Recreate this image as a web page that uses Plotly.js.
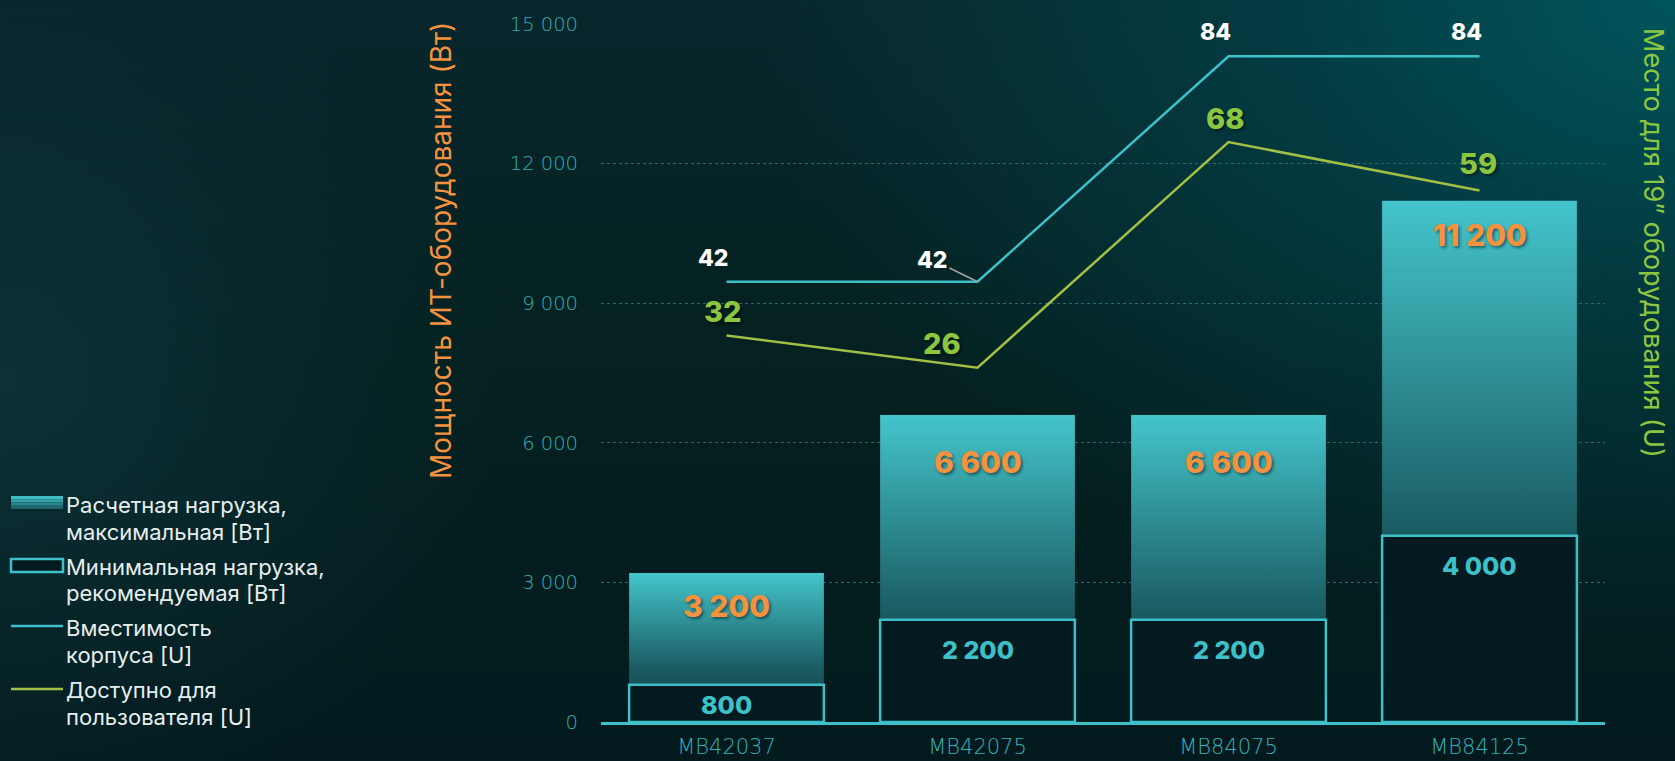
<!DOCTYPE html>
<html><head><meta charset="utf-8">
<script src="https://cdn.plot.ly/plotly-3.0.1.min.js"></script>
<style>
html,body{margin:0;padding:0;width:1675px;height:761px;overflow:hidden;}
body{background:
  radial-gradient(ellipse 55% 85% at 100% 0%, rgba(0,84,91,1) 0%, rgba(0,72,80,0.6) 45%, rgba(3,28,33,0) 100%),
  radial-gradient(ellipse 30% 60% at 0% 50%, rgba(13,50,56,0.9) 0%, rgba(13,50,56,0) 100%),
  linear-gradient(180deg, #08272c 0%, #04201f 50%, #021a1e 100%);}
#chart{width:1675px;height:761px;}
</style></head><body><div id="chart"></div>
<script>
// ---- data ----
const categories = ['MB42037', 'MB42075', 'MB84075', 'MB84125'];
const maxLoad = [3200, 6600, 6600, 11200];      // Расчетная нагрузка, максимальная [Вт]
const minLoad = [800, 2200, 2200, 4000];        // Минимальная нагрузка, рекомендуемая [Вт]
const capacityU = [42, 42, 84, 84];             // Вместимость корпуса [U]
const availableU = [32, 26, 68, 59];            // Доступно для пользователя [U]
const yTickVals = [0, 3000, 6000, 9000, 12000, 15000];
const seriesNames = [
  ['Расчетная нагрузка,', 'максимальная [Вт]'],
  ['Минимальная нагрузка,', 'рекомендуемая [Вт]'],
  ['Вместимость', 'корпуса [U]'],
  ['Доступно для', 'пользователя [U]']
];
const leftTitle = 'Мощность ИТ-оборудования (Вт)';
const rightTitle = 'Место для 19” оборудования (U)';

// ---- styles ----
const FONT = 'Inter, "Noto Sans", "Open Sans", sans-serif';
const TICKFONT = '"DejaVu Sans", Inter, sans-serif';
const CYAN = '#3dc0c7';
const GREEN_LINE = '#a3be45';
const GREEN_TXT = '#8cc640';
const ORANGE = '#f5923f';
const TICK = '#33b0b7';
const BOX_FILL = '#031b20';
const BAR_W = 0.776;
const M = {l: 601, r: 70, t: 24, b: 39};
const PW = 1675 - M.l - M.r, PH = 761 - M.t - M.b;
const px2x = px => (px - M.l) / PW;
const py2y = py => (761 - M.b - py) / PH;
const xIdx = categories.map((c, i) => i);
const fmt = v => String(v).replace(/\B(?=(\d{3})+(?!\d))/g, ' ');

const traces = [];
// gradient bars (max load), one per category so each has its own gradient
maxLoad.forEach((v, i) => {
  const a = xIdx[i] - BAR_W / 2, b = xIdx[i] + BAR_W / 2;
  traces.push({
    type: 'scatter', mode: 'lines',
    x: [a, b, b, a, a], y: [0, 0, v, v, 0],
    fill: 'toself',
    fillgradient: {type: 'vertical', colorscale: [[0, '#0e3a40'], [0.35, '#1a5a61'], [1, '#44c5cb']]},
    line: {width: 0, color: CYAN},
    name: seriesNames[0].join(' '), showlegend: false, hoverinfo: 'skip'
  });
});
// min load outlined boxes (drawn as closed shapes so they sit above the gradient bars)
const mx = [], my = [];
minLoad.forEach((v, i) => {
  const a = xIdx[i] - BAR_W / 2, b = xIdx[i] + BAR_W / 2;
  mx.push(a, b, b, a, a, null);
  my.push(0, 0, v, v, 0, null);
});
traces.push({
  type: 'scatter', mode: 'lines', x: mx, y: my, fill: 'toself', fillcolor: BOX_FILL,
  line: {color: CYAN, width: 2.5}, connectgaps: false,
  name: seriesNames[1].join(' '), showlegend: false, hoverinfo: 'skip'
});
traces.push({
  type: 'scatter', mode: 'lines', x: xIdx, y: capacityU, yaxis: 'y2',
  line: {color: CYAN, width: 2.5}, name: seriesNames[2].join(' '), showlegend: false
});
traces.push({
  type: 'scatter', mode: 'lines', x: xIdx, y: availableU, yaxis: 'y2',
  line: {color: GREEN_LINE, width: 2.5}, name: seriesNames[3].join(' '), showlegend: false
});

// ---- annotations ----
const ann = [];
const shadow = '2px 2px 3px rgba(0,0,0,0.45)';
const maxShift = [-33, -47, -47, -34];
maxLoad.forEach((v, i) => ann.push({
  x: xIdx[i], y: v, xref: 'x', yref: 'y', text: fmt(v), showarrow: false, yshift: maxShift[i],
  font: {family: FONT, size: 30, weight: 800, color: ORANGE, shadow: shadow}
}));
const minShift = [-20, -30, -30, -30];
minLoad.forEach((v, i) => ann.push({
  x: xIdx[i], y: v, xref: 'x', yref: 'y', text: fmt(v), showarrow: false, yshift: minShift[i],
  font: {family: FONT, size: 25, weight: 800, color: CYAN}
}));
const capOff = [[-13, 24], null, [-13, 24], [-13, 24]];
capacityU.forEach((v, i) => {
  const base = {x: xIdx[i], y: v, xref: 'x', yref: 'y2', text: String(v),
    font: {family: FONT, size: 23, weight: 800, color: '#ffffff'}};
  if (capOff[i]) {
    ann.push(Object.assign(base, {showarrow: false, xshift: capOff[i][0], yshift: capOff[i][1]}));
  } else {
    ann.push(Object.assign(base, {showarrow: true, arrowhead: 0, arrowwidth: 1.6, arrowcolor: '#a0a0a0',
      ax: -45, ay: -22, standoff: 0, startstandoff: 0}));
  }
});
const avOff = [[-4, 24], [-36, 24], [-4, 24], [-2, 27]];
availableU.forEach((v, i) => ann.push({
  x: xIdx[i], y: v, xref: 'x', yref: 'y2', text: String(v), showarrow: false,
  xshift: avOff[i][0], yshift: avOff[i][1],
  font: {family: FONT, size: 29, weight: 800, color: GREEN_TXT, shadow: shadow}
}));
// axis titles
ann.push({xref: 'paper', yref: 'paper', x: px2x(441), y: py2y(251), xanchor: 'center', yanchor: 'middle',
  text: leftTitle, textangle: -90, showarrow: false, font: {family: FONT, size: 28, color: ORANGE}});
ann.push({xref: 'paper', yref: 'paper', x: px2x(1654), y: py2y(243), xanchor: 'center', yanchor: 'middle',
  text: rightTitle, textangle: 90, showarrow: false, borderpad: 0,
  font: {family: FONT, size: 27, color: GREEN_TXT}});

// ---- custom legend (swatches + text) ----
const shapes = [];
const SW_L = px2x(11), SW_R = px2x(63);
const gradBands = ['#40bcc3', '#34a2a9', '#28868c', '#1d676d'];
gradBands.forEach((c, k) => shapes.push({
  type: 'rect', xref: 'paper', yref: 'paper', x0: SW_L, x1: SW_R,
  y0: py2y(496 + k * 3.25), y1: py2y(496 + (k + 1) * 3.25), fillcolor: c, line: {width: 0}, layer: 'above'
}));
shapes.push({type: 'rect', xref: 'paper', yref: 'paper', x0: SW_L, x1: SW_R, y0: py2y(559), y1: py2y(572),
  fillcolor: BOX_FILL, line: {color: CYAN, width: 2.5}, layer: 'above'});
shapes.push({type: 'line', xref: 'paper', yref: 'paper', x0: SW_L, x1: SW_R, y0: py2y(626), y1: py2y(626),
  line: {color: CYAN, width: 2.5}, layer: 'above'});
shapes.push({type: 'line', xref: 'paper', yref: 'paper', x0: SW_L, x1: SW_R, y0: py2y(689), y1: py2y(689),
  line: {color: GREEN_LINE, width: 2.5}, layer: 'above'});
const legendLineY = [[505, 532], [567, 593], [628, 655], [690, 717]];
seriesNames.forEach((lines, i) => lines.forEach((t, j) => ann.push({
  xref: 'paper', yref: 'paper', x: px2x(64), y: py2y(legendLineY[i][j]), xanchor: 'left', yanchor: 'middle',
  align: 'left', text: t, showarrow: false, font: {family: FONT, size: 22, color: '#e6eef0'}
})));

const layout = {
  width: 1675, height: 761,
  margin: M,
  paper_bgcolor: 'rgba(0,0,0,0)', plot_bgcolor: 'rgba(0,0,0,0)',
  separators: ', ',
  showlegend: false,
  xaxis: {
    type: 'linear', range: [-0.5, 3.5], tickvals: xIdx, ticktext: categories,
    showgrid: false, zeroline: false, showline: true, linecolor: CYAN, linewidth: 2.5,
    ticks: '', tickfont: {family: TICKFONT, size: 21, weight: 200, color: TICK}, ticklabelstandoff: 4
  },
  yaxis: {
    range: [0, 15000], tickvals: yTickVals, tickformat: ',d',
    showgrid: true, gridcolor: '#1f6f75', griddash: 'dot', gridwidth: 1,
    zeroline: false, showline: false, ticks: '',
    tickfont: {family: TICKFONT, size: 19.5, weight: 200, color: TICK}, ticklabelstandoff: 22
  },
  yaxis2: {
    overlaying: 'y', side: 'right', range: [-40, 90],
    showgrid: false, zeroline: false, showticklabels: false, showline: false, ticks: ''
  },
  shapes: shapes,
  annotations: ann
};

Plotly.newPlot('chart', traces, layout, {displayModeBar: false, staticPlot: true});
</script></body></html>
